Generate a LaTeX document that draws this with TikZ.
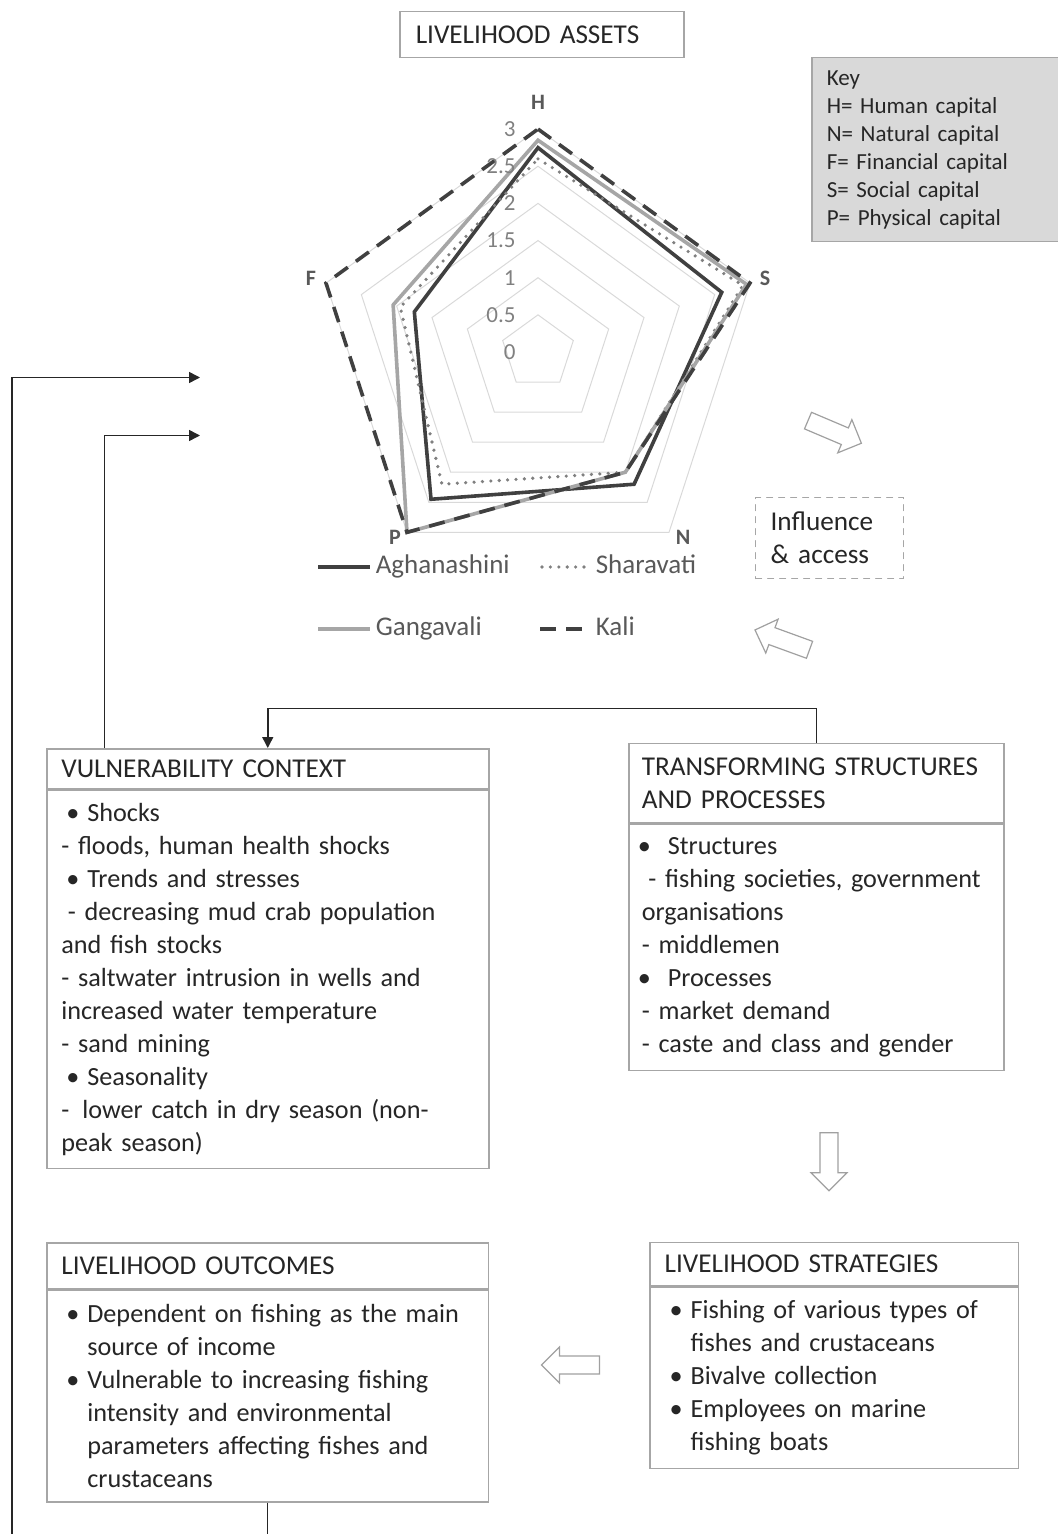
\documentclass[tikz,border=0pt]{standalone}
\usepackage{fontspec}
\setmainfont{Carlito}
\usepackage{tikz}
\usetikzlibrary{arrows.meta,positioning}
\usepackage{xcolor}
\definecolor{txt}{HTML}{262626}
\definecolor{boxgray}{HTML}{A6A6A6}
\definecolor{keyfill}{HTML}{D9D9D9}
\definecolor{gridgray}{HTML}{D9D9D9}
\definecolor{serdark}{HTML}{404040}
\definecolor{serlight}{HTML}{A6A6A6}
\definecolor{serdot}{HTML}{808080}
\definecolor{leggray}{HTML}{595959}
\definecolor{arrgray}{HTML}{A0A0A0}
\newcommand{\headfont}{\fontsize{13.6}{16.5}\selectfont}
\newcommand{\bodyfont}{\fontsize{13.1}{16.5}\selectfont\hyphenpenalty=10000\exhyphenpenalty=10000}
\newcommand{\keyfont}{\fontsize{11.5}{14}\selectfont}
\newcommand{\blt}[1][2.5pt]{\hspace*{#1}\makebox[\dimexpr13pt-#1\relax][l]{\textbullet}}
\newcommand{\ind}{\hspace*{13pt}}

\begin{document}
\begin{tikzpicture}[x=0.5pt,y=-0.5pt,line cap=round,
  box/.style={draw=boxgray,line width=0.75pt,fill=white,inner xsep=7.3pt,inner ysep=0pt,
    align=left,text=txt,font=\headfont},
  body/.style={box,font=\bodyfont},
  conn/.style={draw=black!85,line width=0.75pt,line cap=butt,-{Triangle[length=5.5pt,width=5.5pt]}},
  plain/.style={draw=black!85,line width=0.75pt,line cap=butt},
  gridln/.style={draw=gridgray,line width=0.5pt},
  aghan/.style={draw=serdark,line width=1.8pt},
  shara/.style={draw=serdot,line width=1.8pt,dash pattern=on 0pt off 4.2pt},
  ganga/.style={draw=serlight,line width=1.8pt},
  kali/.style={draw=serdark,line width=1.8pt,line cap=butt,dash pattern=on 8pt off 5pt},
  axlbl/.style={font=\fontsize{11}{13}\selectfont\bfseries,text=leggray,inner sep=0pt},
  scalelbl/.style={font=\fontsize{11.5}{13}\selectfont,text=serdot,inner sep=0pt,anchor=east},
  legtext/.style={font=\fontsize{13.5}{16}\selectfont,text=leggray,inner sep=2pt,anchor=west,
    text height=9.5pt,text depth=3pt},
  blockarr/.pic={\draw[draw=arrgray,fill=white,line width=0.6pt,line join=miter]
    (0,-9) -- (40,-9) -- (40,-18) -- (58,0) -- (40,18) -- (40,9) -- (0,9) -- cycle;}]
\useasboundingbox (0,0) rectangle (1058,1534);

% livelihood assets
\node[box,anchor=north west,text width=126pt,inner xsep=8pt,minimum height=23pt] (assets) at (399,11) {LIVELIHOOD ASSETS};

% key
\node[box,anchor=north west,fill=keyfill,font=\keyfont,text width=109pt,inner xsep=7.5pt,minimum height=92pt] (key) at (811,57)
  {Key\\H= Human capital\\N= Natural capital\\F= Financial capital\\S= Social capital\\P= Physical capital};

% radar chart
\begin{scope}[shift={(538,352)},scale=74.3]
\foreach \l in {0.5,1,1.5,2,2.5,3}
  \draw[gridln] (-90:\l) -- (-18:\l) -- (54:\l) -- (126:\l) -- (198:\l) -- cycle;
\draw[aghan] (-90:2.75) -- (-18:2.6) -- (54:2.2) -- (126:2.45) -- (198:1.75) -- cycle;
\draw[shara] (-90:2.6) -- (-18:2.9) -- (54:2.0) -- (126:2.2) -- (198:1.95) -- cycle;
\draw[ganga] (-90:2.85) -- (-18:2.95) -- (54:2.0) -- (126:3) -- (198:2.05) -- cycle;
\draw[kali] (-90:3) -- (-18:3) -- (54:2.0) -- (126:3) -- (198:3) -- cycle;
\end{scope}
\foreach \v in {0,0.5,1,1.5,2,2.5,3}
  \node[scalelbl] at (516,{352-74.3*\v}) {\v};
\node[axlbl] (H) at (538,102) {H};
\node[axlbl] (S) at (765,278) {S};
\node[axlbl] (N) at (683,537) {N};
\node[axlbl] (P) at (395,537) {P};
\node[axlbl] (F) at (311,278) {F};

% legend
\draw[aghan,line cap=butt] (318,567) -- (370,567) node[legtext] (lgA) {Aghanashini};
\draw[shara] (542,567) -- (590,567) node[legtext] (lgS) {Sharavati};
\draw[ganga,line cap=butt] (318,629) -- (370,629) node[legtext] (lgG) {Gangavali};
\draw[kali] (540,629) -- (590,629) node[legtext] (lgK) {Kali};

% influence and access
\node[box,dashed,line width=0.6pt,anchor=north west,text width=59pt,inner xsep=7.5pt,minimum height=40.5pt] (infl) at (755,497)
  {Influence\\\& access};
\pic[rotate=-23] at (808,420.6) {blockarr};
\pic[rotate=160] at (809.5,649.8) {blockarr};

% vulnerability context
\node[box,anchor=north west,text width=206.4pt,minimum height=20pt] (vulnhead) at (46,748) {VULNERABILITY CONTEXT};
\node[body,below=0pt of vulnhead,text width=206.4pt,minimum height=189pt] (vulnbody)
  {\blt Shocks\\
   - floods, human health shocks\\
   \blt Trends and stresses\\
   \hspace*{0.25em}- decreasing mud crab population\\
   and fish stocks\\
   - saltwater intrusion in wells and\\
   increased water temperature\\
   - sand mining\\
   \blt Seasonality\\
   -\hspace*{0.5em}lower catch in dry season (non-\\
   peak season)};

% transforming structures
\node[box,anchor=north west,text width=174.7pt,inner xsep=6.4pt,minimum height=39.5pt] (transhead) at (628.3,742.7)
  {TRANSFORMING STRUCTURES\\AND PROCESSES};
\node[body,below=0pt of transhead,text width=174.7pt,inner xsep=6.4pt,minimum height=123.3pt] (transbody)
  {\blt[-2pt]Structures\\
   \mbox{\hspace*{0.25em}- fishing societies, government}\\
   organisations\\
   - middlemen\\
   \blt[-2pt]Processes\\
   - market demand\\
   - caste and class and gender};

% livelihood strategies
\node[box,anchor=north west,text width=169.7pt,minimum height=21.7pt] (strathead) at (649.3,1241.7) {LIVELIHOOD STRATEGIES};
\node[body,below=0pt of strathead,text width=169.7pt,minimum height=90.5pt] (stratbody)
  {\blt Fishing of various types of\\
   \ind fishes and crustaceans\\
   \blt Bivalve collection\\
   \blt Employees on marine\\
   \ind fishing boats};

% livelihood outcomes
\node[box,anchor=north west,text width=206.2pt,minimum height=22.7pt] (outhead) at (46,1242.3) {LIVELIHOOD OUTCOMES};
\node[body,below=0pt of outhead,text width=206.2pt,minimum height=106pt] (outbody)
  {\blt Dependent on fishing as the main\\
   \ind source of income\\
   \blt Vulnerable to increasing fishing\\
   \ind intensity and environmental\\
   \ind parameters affecting fishes and\\
   \ind crustaceans};

% block arrows between boxes
\pic[rotate=-90] at (829,1132.7) {blockarr};
\pic[rotate=180] at (599.5,1365) {blockarr};

% feedback connectors
\coordinate (assetsin1) at (200,377.5);
\coordinate (assetsin2) at (200,435.5);
\coordinate (cutL) at (12,1534);
\draw[conn] (cutL) |- (assetsin1);
\draw[conn] ([xshift=29.15pt]vulnhead.north west) |- (assetsin2);
\draw[conn] (transhead.north) -- ++(0,-34) -| (vulnhead.north);
\draw[plain] (outbody.south) -- (outbody.south |- cutL);
\end{tikzpicture}
\end{document}
